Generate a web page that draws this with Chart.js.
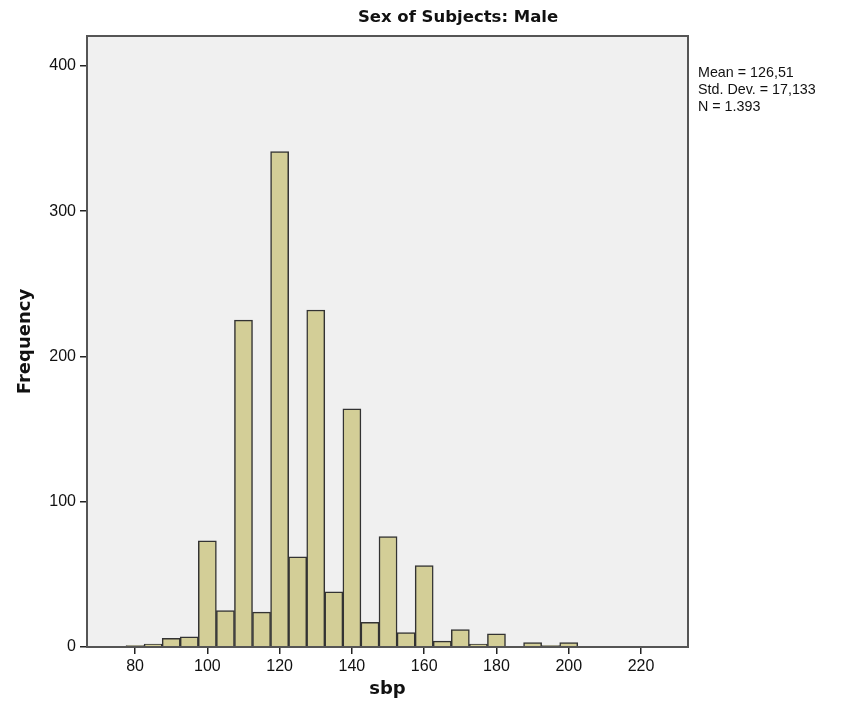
<!DOCTYPE html>
<html>
<head>
<meta charset="utf-8">
<script src="https://cdn.jsdelivr.net/npm/chart.js@4/dist/chart.umd.min.js"></script>
<style>
  html, body { margin: 0; padding: 0; background: #ffffff; }
  canvas { display: block; }
</style>
</head>
<body>
<canvas id="c" width="848" height="715"></canvas>
<script>
// ---- data ----
const chartTitle = "Sex of Subjects: Male";
const xTitle = "sbp";
const yTitle = "Frequency";
const binCenters = [80, 85, 90, 95, 100, 105, 110, 115, 120, 125, 130, 135, 140, 145, 150, 155, 160, 165, 170, 175, 180, 185, 190, 195, 200];
const counts     = [1, 2, 6, 7, 73, 25, 225, 24, 341, 62, 232, 38, 164, 17, 76, 10, 56, 4, 12, 2, 9, 0, 3, 1, 3];
const xTicks = [80, 100, 120, 140, 160, 180, 200, 220];
const yTicks = [0, 100, 200, 300, 400];
const statsLines = ["Mean = 126,51", "Std. Dev. = 17,133", "N = 1.393"];

const framePlugin = {
  id: 'frame',
  beforeDraw(chart) {
    const {ctx, chartArea: a} = chart;
    ctx.save();
    ctx.fillStyle = '#f0f0f0';
    ctx.fillRect(a.left, a.top, a.right - a.left, a.bottom - a.top);
    ctx.restore();
  },
  afterDraw(chart) {
    const {ctx, chartArea: a} = chart;
    ctx.save();
    ctx.strokeStyle = '#555555';
    ctx.lineWidth = 2;
    ctx.strokeRect(a.left, a.top, a.right - a.left, a.bottom - a.top);
    // chart title
    ctx.fillStyle = '#111111';
    ctx.font = 'bold 16.5px "DejaVu Sans"';
    ctx.textAlign = 'center';
    ctx.textBaseline = 'middle';
    ctx.fillText(chartTitle, 458, 18);
    // stats block
    ctx.font = '14.3px "Liberation Sans"';
    ctx.textAlign = 'left';
    statsLines.forEach((t, i) => ctx.fillText(t, 698, 73 + i * 17));
    ctx.restore();
  }
};

new Chart(document.getElementById('c'), {
  type: 'bar',
  data: {
    datasets: [{
      data: binCenters.map((x, i) => ({x: x, y: counts[i]})),
      backgroundColor: '#d3ce97',
      borderColor: '#333333',
      borderWidth: 1.5,
      barPercentage: 1,
      categoryPercentage: 1
    }]
  },
  options: {
    responsive: false,
    animation: false,
    devicePixelRatio: 1,
    layout: { padding: { top: 36, right: 160, left: 0, bottom: 0 } },
    plugins: { legend: { display: false }, tooltip: { enabled: false }, title: { display: false } },
    scales: {
      x: {
        type: 'linear',
        offset: false,
        min: 66.7,
        max: 233,
        afterFit(s) { s.height = 68; },
        afterBuildTicks(s) { s.ticks = xTicks.map(v => ({value: v})); },
        grid: { offset: false, drawOnChartArea: false, drawTicks: true, tickLength: 7, color: '#222222', lineWidth: 1.5 },
        border: { display: false },
        ticks: { color: '#111111', font: { family: 'Liberation Sans', size: 16 }, padding: 3, maxRotation: 0, autoSkip: false },
        title: { display: true, text: xTitle, color: '#111111', font: { family: 'DejaVu Sans', size: 18, weight: 'bold' }, padding: { top: 0, bottom: 15 } }
      },
      y: {
        type: 'linear',
        min: 0,
        max: 420.6,
        afterFit(s) { s.width = 87; },
        afterBuildTicks(s) { s.ticks = yTicks.map(v => ({value: v})); },
        grid: { offset: false, drawOnChartArea: false, drawTicks: true, tickLength: 7, color: '#222222', lineWidth: 1.5 },
        border: { display: false },
        ticks: { color: '#111111', font: { family: 'Liberation Sans', size: 16 }, padding: 4, autoSkip: false },
        title: { display: true, text: yTitle, color: '#111111', font: { family: 'DejaVu Sans', size: 18, weight: 'bold' }, padding: { top: 15, bottom: 0 } }
      }
    }
  },
  plugins: [framePlugin]
});
</script>
</body>
</html>
